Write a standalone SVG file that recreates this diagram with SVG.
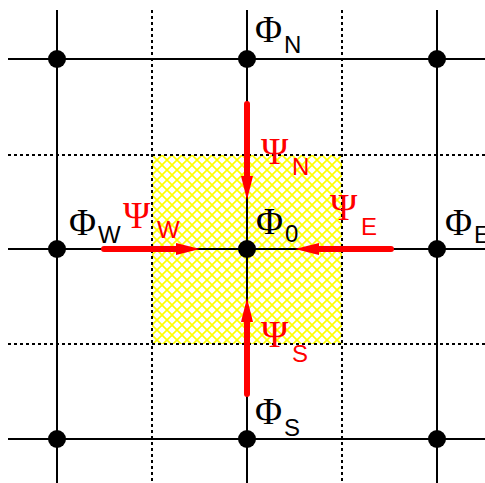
<svg xmlns="http://www.w3.org/2000/svg" width="485" height="483" viewBox="0 0 485 483">
<style>
.grid{stroke:#000;stroke-width:2;fill:none}
.dot{stroke:#000;stroke-width:2;stroke-dasharray:3 3;fill:none}
.node{fill:#000}
.flux{stroke:#f00;stroke-width:6;stroke-linecap:round;fill:none}
.big{font-family:"Liberation Serif","DejaVu Serif",serif;font-size:37px}
.sub{font-family:"Liberation Sans","DejaVu Sans",sans-serif;font-size:24px}
.red{fill:#f00}
.blk{fill:#000}
</style>
<defs>
<pattern id="hatch" x="152" y="155" width="10" height="10" patternUnits="userSpaceOnUse">
<path d="M-1,-1 L11,11 M11,-1 L-1,11" stroke="#ff0" stroke-width="1.6"/>
</pattern>
<marker id="head" markerUnits="userSpaceOnUse" markerWidth="26" markerHeight="14" refX="0" refY="7" orient="auto" viewBox="0 0 26 14">
<path d="M0,1 L24,7 L0,13 z" fill="#f00"/>
</marker>
</defs>
<rect width="485" height="483" fill="#fff"/>
<rect id="cell" x="152" y="155" width="190" height="189" fill="url(#hatch)"/>
<g id="connectors">
<line class="dot" x1="152" y1="10" x2="152" y2="483"/>
<line class="dot" x1="342" y1="10" x2="342" y2="483"/>
<line class="dot" x1="8" y1="155" x2="485" y2="155"/>
<line class="dot" x1="8" y1="344" x2="485" y2="344"/>
<line class="grid" x1="57" y1="10" x2="57" y2="483"/>
<line class="grid" x1="247" y1="10" x2="247" y2="483"/>
<line class="grid" x1="437" y1="10" x2="437" y2="483"/>
<line class="grid" x1="8" y1="59" x2="485" y2="59"/>
<line class="grid" x1="8" y1="249" x2="485" y2="249"/>
<line class="grid" x1="8" y1="439" x2="485" y2="439"/>
</g>
<g id="node-NW"><circle class="node" cx="57" cy="59" r="9"/></g>
<g id="node-N"><circle class="node" cx="247" cy="59" r="9"/><text class="big blk" x="255" y="42">Φ</text><text class="sub blk" x="284" y="53">N</text></g>
<g id="node-NE"><circle class="node" cx="437" cy="59" r="9"/></g>
<g id="node-W"><circle class="node" cx="57" cy="249" r="9"/><text class="big blk" x="69" y="235">Φ</text><text class="sub blk" x="98" y="243">W</text></g>
<g id="node-0"><circle class="node" cx="247" cy="249" r="9"/><text class="big blk" x="256" y="234">Φ</text><text class="sub blk" x="285" y="242">0</text></g>
<g id="node-E"><circle class="node" cx="437" cy="249" r="9"/><text class="big blk" x="445" y="235">Φ</text><text class="sub blk" x="474" y="243">E</text></g>
<g id="node-SW"><circle class="node" cx="57" cy="439" r="9"/></g>
<g id="node-S"><circle class="node" cx="247" cy="439" r="9"/><text class="big blk" x="255" y="424">Φ</text><text class="sub blk" x="284" y="436">S</text></g>
<g id="node-SE"><circle class="node" cx="437" cy="439" r="9"/></g>
<g id="fluxes">
<line class="flux" x1="247" y1="104" x2="247" y2="176" marker-end="url(#head)"/>
<line class="flux" x1="247" y1="394" x2="247" y2="322" marker-end="url(#head)"/>
<line class="flux" x1="104" y1="249" x2="176" y2="249" marker-end="url(#head)"/>
<line class="flux" x1="391" y1="249" x2="319" y2="249" marker-end="url(#head)"/>
<text class="big red" x="261" y="164">Ψ</text><text class="sub red" x="292" y="175">N</text>
<text class="big red" x="261" y="347">Ψ</text><text class="sub red" x="292" y="362">S</text>
<text class="big red" x="123" y="228">Ψ</text><text class="sub red" x="157" y="238">W</text>
<text class="big red" x="330" y="220">Ψ</text><text class="sub red" x="361" y="235">E</text>
</g>
</svg>
